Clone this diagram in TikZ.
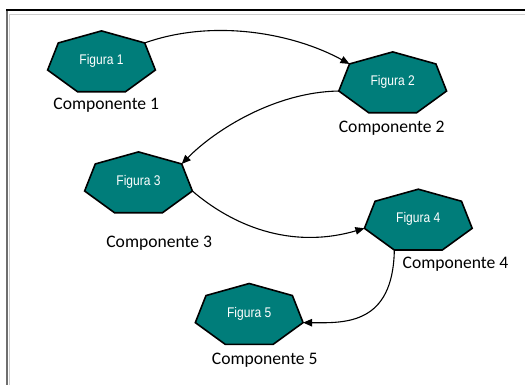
\documentclass[tikz,border=0pt]{standalone}
\usepackage{fontspec}
\setmainfont{Carlito}
\newfontfamily\figfont{Liberation Sans}
\usetikzlibrary{shapes.geometric,arrows.meta}
\definecolor{tealfill}{RGB}{0,125,122}
\definecolor{framegray}{RGB}{110,110,110}
\definecolor{framelight}{RGB}{205,205,205}
\tikzset{
  hept/.style={regular polygon, regular polygon sides=7, draw=black, line width=1.6pt,
    fill=tealfill, minimum size=64pt, inner sep=0pt, outer sep=0pt, xscale=1.727},
  figtext/.style={text=white, font=\figfont\fontsize{14}{16}\selectfont, inner sep=0pt},
  comptext/.style={font=\fontsize{17.6}{20}\selectfont, anchor=base, inner sep=0pt},
  link/.style={line width=1.1pt, -{Triangle[length=9pt,width=7.5pt]}}
}
\newcommand{\narrow}[1]{\scalebox{0.86}[1]{#1}}
\begin{document}
\begin{tikzpicture}[x=1pt,y=-1pt]
  \useasboundingbox (0,0) rectangle (525,385);
  % window frame
  \draw[framelight, line width=1pt] (9.5,385) -- (9.5,14.5) -- (525,14.5);
  \draw[framegray, line width=1.6pt] (6.8,385) -- (6.8,10);
  \draw[black, line width=1.4pt] (6,10) -- (525,10);

  % shapes
  \node[hept] (f1) at (101.5,62.9) {};
  \node[hept] (f2) at (392.7,83.9) {};
  \node[hept] (f3) at (138.5,183.9) {};
  \node[hept] (f4) at (418.3,221.2) {};
  \node[hept] (f5) at (249.2,315.5) {};

  % shape captions
  \node[figtext] (t1) at ([yshift=2pt]f1.center) {\narrow{Figura 1}};
  \node[figtext] (t2) at ([yshift=2pt]f2.center) {\narrow{Figura 2}};
  \node[figtext] (t3) at ([yshift=2pt]f3.center) {\narrow{Figura 3}};
  \node[figtext] (t4) at ([yshift=2pt]f4.center) {\narrow{Figura 4}};
  \node[figtext] (t5) at ([yshift=2pt]f5.center) {\narrow{Figura 5}};

  % component labels
  \node[comptext] (c1) at (106.3,110) {Componente 1};
  \node[comptext] (c2) at (391.7,132.4) {Componente 2};
  \node[comptext] (c3) at (159.2,247.7) {Componente 3};
  \node[comptext] (c4) at (455.5,268.3) {Componente 4};
  \node[comptext] (c5) at (264.8,364) {Componente 5};

  % connectors
  \draw[link] (f1.corner 7) .. controls (215,18) and (295,34) .. (f2.corner 2);
  \draw[link] (f2.corner 3) .. controls (275,92) and (215,130) .. (f3.corner 7);
  \draw[link] (f3.corner 6) .. controls (232,225) and (290,250) .. (f4.corner 3);
  \draw[link] (f4.corner 4) .. controls (393,325) and (345,323) .. (f5.corner 6);
\end{tikzpicture}
\end{document}
